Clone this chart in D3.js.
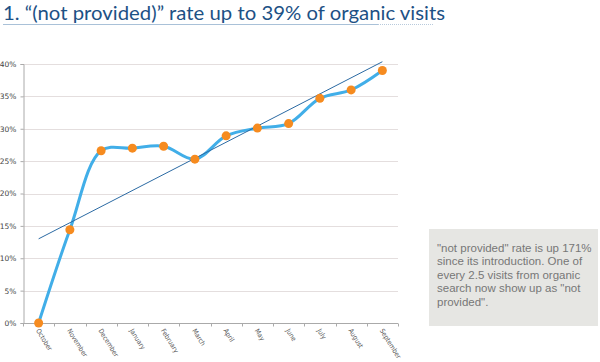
<!DOCTYPE html>
<html>
<head>
<meta charset="utf-8">
<script src="https://cdn.jsdelivr.net/npm/d3@7"></script>
<style>
  body { margin: 0; background: #fff; }
  svg { display: block; }
</style>
</head>
<body>
<script>
const months = ["October", "November", "December", "January", "February", "March",
  "April", "May", "June", "July", "August", "September"];
const notProvided = [0, 14.4, 26.6, 27.0, 27.3, 25.3, 28.9, 30.1, 30.8, 34.7, 36.0, 39.0];
const yTicks = [0, 5, 10, 15, 20, 25, 30, 35, 40];
const noteLines = [
  "\"not provided\" rate is up 171%",
  "since its introduction. One of",
  "every 2.5 visits from organic",
  "search now show up as \"not",
  "provided\"."
];

const width = 600, height = 362;
const plot = { left: 23, right: 398, top: 64, bottom: 323 };

const svg = d3.select("body").append("svg")
  .attr("width", width)
  .attr("height", height);

// title
svg.append("text")
  .attr("x", 3)
  .attr("y", 20)
  .attr("font-family", "Lato, 'Open Sans', sans-serif")
  .attr("font-size", 20)
  .attr("fill", "#1d5185")
  .attr("textLength", 442)
  .attr("lengthAdjust", "spacingAndGlyphs")
  .text("1. \u201c(not provided)\u201d rate up to 39% of organic visits");

svg.append("line")
  .attr("x1", 3).attr("x2", 378).attr("y1", 24.5).attr("y2", 24.5)
  .attr("stroke", "#a9c1d8").attr("stroke-width", 1);
svg.append("line")
  .attr("x1", 378).attr("x2", 433).attr("y1", 24.5).attr("y2", 24.5)
  .attr("stroke", "#b8cadc").attr("stroke-width", 1)
  .attr("stroke-dasharray", "1,1");

const x = d3.scaleBand().domain(months).range([plot.left, plot.right]);
const y = d3.scaleLinear().domain([0, 40]).range([plot.bottom, plot.top]);
const cx = (d) => x(d) + x.bandwidth() / 2;

// gridlines
svg.append("g")
  .selectAll("line")
  .data(yTicks.filter((t) => t > 0))
  .enter()
  .append("line")
  .attr("x1", plot.left).attr("x2", plot.right)
  .attr("y1", (d) => Math.round(y(d)) + 0.5)
  .attr("y2", (d) => Math.round(y(d)) + 0.5)
  .attr("stroke", "#e4dede");

// y axis
const yAxis = svg.append("g")
  .attr("transform", `translate(${plot.left + 0.5},0)`)
  .call(d3.axisLeft(y).tickValues(yTicks).tickSize(3).tickPadding(4)
    .tickFormat((d) => d + "%"));
yAxis.select(".domain").attr("stroke", "#aaa");
yAxis.selectAll(".tick line").attr("stroke", "#aaa");
yAxis.selectAll("text")
  .attr("font-family", "'DejaVu Sans', sans-serif")
  .attr("font-size", 7.5)
  .attr("fill", "#444");

// x axis
const xAxis = svg.append("g")
  .attr("transform", `translate(0,${Math.round(y(0)) + 0.5})`);
xAxis.append("line")
  .attr("x1", plot.left).attr("x2", plot.right)
  .attr("stroke", "#aaa");
xAxis.selectAll(".xt")
  .data(d3.range(months.length + 1))
  .enter()
  .append("line")
  .attr("class", "xt")
  .attr("x1", (i) => Math.round(plot.left + i * x.step()) + 0.5)
  .attr("x2", (i) => Math.round(plot.left + i * x.step()) + 0.5)
  .attr("y1", 0).attr("y2", 3)
  .attr("stroke", "#aaa");
xAxis.selectAll("text")
  .data(months)
  .enter()
  .append("text")
  .attr("transform", (d) => `translate(${cx(d) - 3},${7}) rotate(58)`)
  .attr("font-family", "'DejaVu Sans Condensed', 'DejaVu Sans', sans-serif")
  .attr("font-size", 6.8)
  .attr("fill", "#555")
  .text((d) => d);

// data line
const line = d3.line()
  .x((d, i) => cx(months[i]))
  .y((d) => y(d))
  .curve(d3.curveCatmullRom.alpha(0.5));

svg.append("path")
  .datum(notProvided)
  .attr("fill", "none")
  .attr("stroke", "#41aee8")
  .attr("stroke-width", 3)
  .attr("stroke-linejoin", "round")
  .attr("d", line);

// linear trendline
const n = notProvided.length;
const mx = d3.mean(d3.range(n));
const my = d3.mean(notProvided);
const slope = d3.sum(notProvided, (v, i) => (i - mx) * (v - my)) /
  d3.sum(d3.range(n), (i) => (i - mx) * (i - mx));
const icpt = my - slope * mx;

svg.append("line")
  .attr("x1", cx(months[0])).attr("y1", y(icpt))
  .attr("x2", cx(months[n - 1])).attr("y2", y(icpt + slope * (n - 1)))
  .attr("stroke", "#2b6aa3")
  .attr("stroke-width", 1);

// markers
svg.append("g")
  .selectAll("circle")
  .data(notProvided)
  .enter()
  .append("circle")
  .attr("cx", (d, i) => cx(months[i]))
  .attr("cy", (d) => y(d))
  .attr("r", 4.5)
  .attr("fill", "#f68b1f");

// note box
const note = svg.append("g");
note.append("rect")
  .attr("x", 429).attr("y", 229)
  .attr("width", 169).attr("height", 97)
  .attr("fill", "#e6e6e3");
note.selectAll("text")
  .data(noteLines)
  .enter()
  .append("text")
  .attr("x", 437)
  .attr("y", (d, i) => 252 + i * 13.4)
  .attr("font-family", "'Liberation Sans', Arial, sans-serif")
  .attr("font-size", 11.5)
  .attr("fill", "#777")
  .text((d) => d);
</script>
</body>
</html>
